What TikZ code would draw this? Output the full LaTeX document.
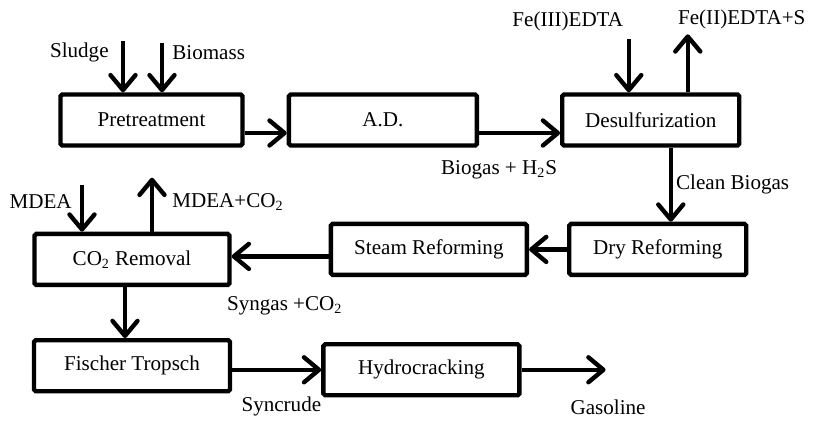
\documentclass[tikz,border=0pt]{standalone}
\usepackage{fontspec}
\setmainfont{Liberation Serif}
\usetikzlibrary{positioning, arrows.meta}

\begin{document}
\begin{tikzpicture}[
every node/.style={
    font=\fontsize{12}{14}\selectfont,
    },
box/.style={
    draw,
    rectangle,
    line width=2.5pt,
    rounded corners=1pt,
    minimum height=1.02cm,
    },
lbl/.style={
    inner sep=0pt,
    },
every edge/.style={
    draw,
    line width=2.5pt,
    -{Straight Barb[round, length=3mm, width=5mm]},
    },
]
\useasboundingbox (-3.03,-6.02) rectangle (13.25,2.4);

\node[box, minimum width=3.64cm] (pre) {Pretreatment};
\node[box, minimum width=3.76cm] (ad) [right=0.84cm of pre] {A.D.};
\node[box, minimum width=3.54cm] (desulf) [right=1.62cm of ad] {Desulfurization};
\node[box, minimum width=3.54cm] (dry) [below=1.48cm of desulf, xshift=0.14cm] {Dry Reforming};
\node[box, minimum width=3.92cm] (steam) [left=0.76cm of dry] {Steam Reforming};
\node[box, minimum width=3.9cm] (co2) [left=1.94cm of steam, yshift=-0.2cm] {CO\textsubscript{2} Removal};
\node[box, minimum width=3.92cm] (ft) [below=1.02cm of co2] {Fischer Tropsch};
\node[box, minimum width=3.92cm] (hydro) [right=1.78cm of ft, yshift=-0.08cm] {Hydrocracking};

\coordinate (sludge in) at ([shift={(-0.57,1.02)}]pre.north);
\coordinate (biomass in) at ([shift={(0.21,0.98)}]pre.north);
\coordinate (fe3 in) at ([shift={(-0.44,1.06)}]desulf.north);
\coordinate (fe2 out) at ([shift={(0.74,1.16)}]desulf.north);
\coordinate (mdea in) at ([shift={(-1.0,0.94)}]co2.north);
\coordinate (mdea out) at ([shift={(0.4,1.08)}]co2.north);
\coordinate (gas out) at ([xshift=1.68cm]hydro.east);

\node[lbl, anchor=east] (sludge) at ([shift={(-0.28,-0.22)}]sludge in) {Sludge};
\node[lbl, anchor=west] (biomass) at ([shift={(0.2,-0.18)}]biomass in) {Biomass};
\node[lbl] (fe3) at ([shift={(-1.22,0.36)}]fe3 in) {Fe(III)EDTA};
\node[lbl] (fe2) at ([shift={(1.08,0.3)}]fe2 out) {Fe(II)EDTA+S};
\node[lbl] (biogas) at ([shift={(0.4,-0.44)}]ad.south east) {Biogas + H\textsubscript{2}S};
\node[lbl, anchor=west] (clean) at ([shift={(0.5,-0.74)}]desulf.south) {Clean Biogas};
\node[lbl, anchor=east] (mdea) at ([shift={(-0.2,-0.34)}]mdea in) {MDEA};
\node[lbl, anchor=west] (mdeaco2) at ([shift={(0.4,-0.48)}]mdea out) {MDEA+CO\textsubscript{2}};
\node[lbl, anchor=west] (syngas) at ([shift={(-0.1,-0.38)}]co2.south east) {Syngas +CO\textsubscript{2}};
\node[lbl, anchor=west] (syncrude) at ([shift={(0.18,-0.26)}]ft.south east) {Syncrude};
\node[lbl] (gasoline) at ([shift={(0.05,-0.75)}]gas out) {Gasoline};

\path (sludge in) edge (sludge in |- pre.north)
      (biomass in) edge (biomass in |- pre.north)
      ([yshift=-0.26cm]pre.east) edge ([yshift=-0.26cm]ad.west)
      ([yshift=-0.26cm]ad.east) edge ([yshift=-0.26cm]desulf.west)
      (fe3 in) edge (fe3 in |- desulf.north)
      (fe2 out |- desulf.north) edge (fe2 out)
      ([xshift=0.4cm]desulf.south) edge ([xshift=0.4cm]desulf.south |- dry.north)
      (dry.west) edge (steam.east)
      ([yshift=-0.14cm]steam.west) edge ([yshift=-0.14cm]steam.west -| co2.east)
      (mdea in) edge (mdea in |- co2.north)
      (mdea out |- co2.north) edge (mdea out)
      ([xshift=-0.14cm]co2.south) edge ([xshift=-0.14cm]co2.south |- ft.north)
      (hydro.west -| ft.east) edge (hydro.west)
      (hydro.east) edge (gas out);
\end{tikzpicture}
\end{document}
